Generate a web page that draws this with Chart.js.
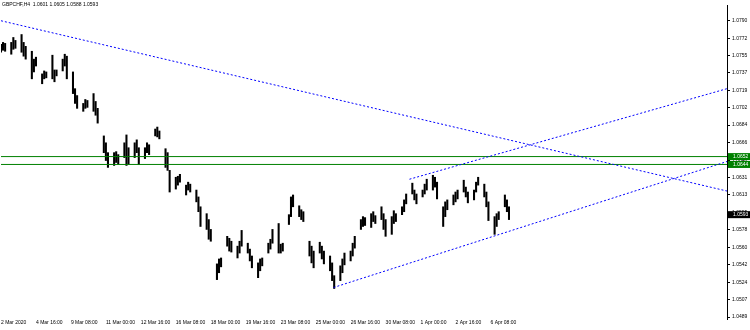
<!DOCTYPE html>
<html>
<head>
<meta charset="utf-8">
<script src="https://cdn.jsdelivr.net/npm/chart.js@4.4.1/dist/chart.umd.min.js"></script>
<style>
  html, body { margin: 0; padding: 0; background: #fff; }
  #wrap { width: 750px; height: 330px; position: relative; }
</style>
</head>
<body>
<div id="wrap"><canvas id="myChart"></canvas></div>
<script>
const MY_CHART = document.querySelector("#myChart");

const TITLE = "GBPCHF,H4  1.0601 1.0605 1.0588 1.0593";

// bar highs / lows, three bars per session block
const highs = [
  1.0766, 1.0768, 1.0767,  1.0768, 1.0773, 1.0770,  1.0776, 1.0768, 1.0764,
  1.0759, 1.0751, 1.0753,  1.0736, 1.0739, 1.0738,  1.0755, 1.0740, 1.0740,
  1.0751, 1.0756, 1.0754,  1.0738, 1.0721, 1.0714,  1.0706, 1.0710, 1.0709,
  1.0716, 1.0708, 1.0701,  1.0673, 1.0666, 1.0656,  1.0656, 1.0657, 1.0654,
  1.0666, 1.0674, 1.0661,  1.0666, 1.0669, 1.0661,  1.0661, 1.0666, 1.0664,
  1.0680, 1.0682, 1.0678,  1.0660, 1.0656, 1.0638,  1.0631, 1.0632, 1.0634,
  1.0623, 1.0626, 1.0624,  1.0618, 1.0611, 1.0601,  1.0594, 1.0588, 1.0578,
  1.0543, 1.0548, 1.0549,  1.0571, 1.0569, 1.0566,  1.0561, 1.0566, 1.0577,
  1.0564, 1.0558, 1.0551,  1.0544, 1.0548, 1.0549,  1.0564, 1.0568, 1.0578,
  1.0584, 1.0563, 1.0564,  1.0593, 1.0611, 1.0613,  1.0602, 1.0598, 1.0596,
  1.0566, 1.0561, 1.0556,  1.0565, 1.0561, 1.0556,  1.0551, 1.0544, 1.0531,
  1.0541, 1.0548, 1.0554,  1.0556, 1.0564, 1.0571,  1.0588, 1.0591, 1.0590,
  1.0594, 1.0596, 1.0592,  1.0601, 1.0594, 1.0588,  1.0591, 1.0597, 1.0594,
  1.0601, 1.0608, 1.0614,  1.0625, 1.0618, 1.0614,  1.0618, 1.0624, 1.0629,
  1.0633, 1.0631, 1.0626,  1.0601, 1.0606, 1.0608,  1.0613, 1.0616, 1.0618,
  1.0628, 1.0621, 1.0616,  1.0618, 1.0626, 1.0631,  1.0624, 1.0616, 1.0606,
  1.0591, 1.0594, 1.0596,  1.0613, 1.0608, 1.0601
];
const lows = [
  1.0758, 1.0760, 1.0759,  1.0756, 1.0761, 1.0762,  1.0758, 1.0754, 1.0751,
  1.0731, 1.0738, 1.0744,  1.0726, 1.0731, 1.0732,  1.0731, 1.0728, 1.0734,
  1.0739, 1.0744, 1.0731,  1.0716, 1.0706, 1.0701,  1.0698, 1.0701, 1.0702,
  1.0698, 1.0694, 1.0686,  1.0656, 1.0648, 1.0641,  1.0643, 1.0646, 1.0644,
  1.0651, 1.0643, 1.0644,  1.0651, 1.0656, 1.0644,  1.0650, 1.0656, 1.0654,
  1.0673, 1.0672, 1.0670,  1.0641, 1.0638, 1.0616,  1.0619, 1.0623, 1.0626,
  1.0613, 1.0618, 1.0616,  1.0606, 1.0596, 1.0581,  1.0578, 1.0568, 1.0566,
  1.0527, 1.0534, 1.0540,  1.0561, 1.0556, 1.0555,  1.0549, 1.0554, 1.0561,
  1.0554, 1.0546, 1.0539,  1.0529, 1.0536, 1.0541,  1.0554, 1.0558, 1.0564,
  1.0554, 1.0554, 1.0556,  1.0583, 1.0591, 1.0601,  1.0591, 1.0588, 1.0586,
  1.0551, 1.0544, 1.0539,  1.0554, 1.0548, 1.0543,  1.0536, 1.0526, 1.0518,
  1.0526, 1.0534, 1.0542,  1.0546, 1.0551, 1.0559,  1.0578, 1.0581, 1.0582,
  1.0580, 1.0586, 1.0584,  1.0588, 1.0578, 1.0571,  1.0573, 1.0584, 1.0586,
  1.0593, 1.0596, 1.0604,  1.0614, 1.0608, 1.0604,  1.0611, 1.0614, 1.0618,
  1.0618, 1.0621, 1.0609,  1.0581, 1.0591, 1.0598,  1.0603, 1.0606, 1.0609,
  1.0616, 1.0611, 1.0605,  1.0608, 1.0616, 1.0623,  1.0611, 1.0601, 1.0587,
  1.0573, 1.0581, 1.0588,  1.0601, 1.0596, 1.0588
];

const yTicks = [1.0790, 1.0772, 1.0755, 1.0737, 1.0719, 1.0702, 1.0684, 1.0666, 1.0648,
                1.0631, 1.0613, 1.0595, 1.0578, 1.0560, 1.0542, 1.0524, 1.0507, 1.0489];
const xLabels = ["2 Mar 2020", "4 Mar 16:00", "9 Mar 08:00", "11 Mar 00:00", "12 Mar 16:00",
                 "16 Mar 08:00", "18 Mar 00:00", "19 Mar 16:00", "23 Mar 08:00", "25 Mar 00:00",
                 "26 Mar 16:00", "30 Mar 08:00", "1 Apr 00:00", "2 Apr 16:00", "6 Apr 08:00"];

const levels = [1.0652, 1.0644];
const lastPrice = 1.0593;
const downTrend = [{x: 0, y: 1.0790}, {x: 353, y: 1.0617}];
const upperTrend = [{x: 198.6, y: 1.0629}, {x: 353, y: 1.0721}];
const lowerTrend = [{x: 161.7, y: 1.0519}, {x: 353, y: 1.0647}];

const bars = highs.map((h, i) => ({x: Math.floor(i / 3) * 5 + i % 3, y: [lows[i], h]}));

const lineSet = (pts, color, dash) => ({
  type: 'line', data: pts, borderColor: color, borderWidth: 1,
  borderDash: dash, pointRadius: 0, fill: false, order: 1
});

const overlay = {
  id: 'overlay',
  afterDraw(chart) {
    const ctx = chart.ctx, y = chart.scales.y, area = chart.chartArea;
    ctx.save();
    ctx.font = '5px "Liberation Sans"';
    ctx.textBaseline = 'middle';
    ctx.fillStyle = '#000';
    ctx.fillText(TITLE, 2, 5);
    const box = (v, bg) => {
      const py = y.getPixelForValue(v);
      ctx.fillStyle = bg;
      ctx.fillRect(area.right + 1, py - 3.5, 750 - area.right - 1, 7);
      ctx.fillStyle = '#fff';
      ctx.fillText(v.toFixed(4), area.right + 6, py);
    };
    levels.forEach(v => box(v, '#008000'));
    box(lastPrice, '#000');
    ctx.restore();
  }
};

const CONFIG = {
  type: 'bar',
  data: {
    datasets: [
      lineSet(downTrend, '#0000ff', [2, 2]),
      lineSet(upperTrend, '#0000ff', [2, 2]),
      lineSet(lowerTrend, '#0000ff', [2, 2]),
      lineSet([{x: 0, y: levels[0]}, {x: 353, y: levels[0]}], '#008000', []),
      lineSet([{x: 0, y: levels[1]}, {x: 353, y: levels[1]}], '#008000', []),
      {type: 'bar', data: bars, backgroundColor: '#000', barThickness: 1.4, order: 5}
    ]
  },
  options: {
    responsive: true,
    maintainAspectRatio: false,
    animation: false,
    layout: {padding: 0},
    plugins: {legend: {display: false}, tooltip: {enabled: false}},
    scales: {
      x: {
        type: 'linear', min: 0, max: 353, offset: false,
        grid: {display: false, drawTicks: false}, border: {display: false},
        afterBuildTicks: s => { s.ticks = xLabels.map((_, i) => ({value: i * 17})); },
        afterFit: s => { s.height = 11; },
        ticks: {autoSkip: false, maxRotation: 0, align: 'start', padding: 1, color: '#000',
                font: {size: 5, family: 'Liberation Sans'}, callback: (v, i) => xLabels[i]}
      },
      y: {
        position: 'right', min: 1.0487, max: 1.0806,
        grid: {drawOnChartArea: false, tickLength: 3, color: '#000'},
        border: {display: true, color: '#000'},
        afterBuildTicks: s => { s.ticks = yTicks.map(v => ({value: v})); },
        afterFit: s => { s.width = 23; },
        ticks: {padding: 2, color: '#000', font: {size: 5, family: 'Liberation Sans'},
                callback: v => v.toFixed(4)}
      }
    }
  },
  plugins: [overlay]
};

new Chart(MY_CHART, CONFIG);
</script>
</body>
</html>
